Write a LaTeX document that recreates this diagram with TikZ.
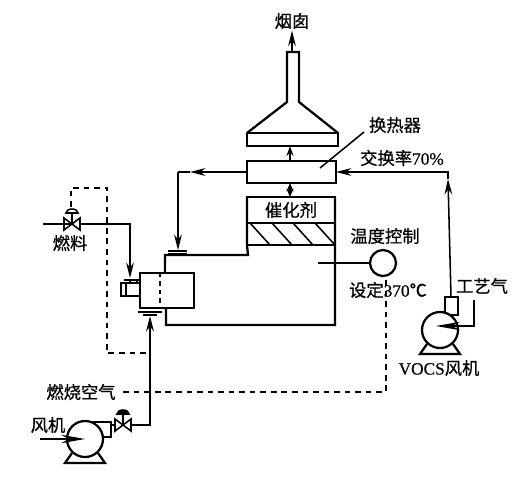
\documentclass[tikz,border=0pt]{standalone}
\usepackage{fontspec}
\setmainfont{Liberation Serif}[FakeBold=0.4]
\newfontfamily\cjk{Noto Sans CJK SC}[FakeBold=0.6]
\usetikzlibrary{arrows.meta}

\tikzset{
    wall/.style={draw, line width=1.6pt, inner sep=0pt, outer sep=0pt},
    pipe/.style={line width=1.1pt},
    flow/.style={pipe, -{Stealth[length=11pt, width=5.5pt]}},
    signal/.style={line width=1.1pt, dash pattern=on 4pt off 3.5pt},
    label/.style={inner sep=1pt, font=\cjk\fontsize{12.3}{14}\selectfont},
}

\begin{document}
\begin{tikzpicture}[x=0.025cm, y=-0.025cm]
    \useasboundingbox (0, 0) rectangle (532, 481);

    % stack and exchanger
    \node[wall, minimum width=2.27cm, minimum height=0.33cm] (hoodbase) at (292.5, 139.5) {};
    \node[wall, minimum width=2.22cm, minimum height=0.55cm] (exchanger) at (291.5, 172) {};
    \draw[wall] (hoodbase.north west) -- (287, 102) -- (287, 52) -- (299, 52) -- (299, 102) -- (hoodbase.north east);
    \coordinate (stacktop) at (292, 52);
    \node[label] (stacklabel) at (292, 21) {烟囱};
    \draw[flow] (stacktop) -- (stacklabel.south);
    \draw[flow, -{Stealth[length=7pt, width=5pt]}] (exchanger.north -| 290, 0) -- (hoodbase.south -| 290, 0);

    % catalyst bed and chamber
    \node[wall, label, minimum width=2.2cm, minimum height=0.65cm] (catalyst) at (291, 210) {催化剂};
    \node[wall, minimum width=2.2cm, minimum height=0.55cm] (bed) at (291, 234) {};
    \draw[flow, {Stealth[length=6pt, width=5pt]}-{Stealth[length=6pt, width=5pt]}] (catalyst.north -| 290, 0) -- (exchanger.south -| 290, 0);
    \foreach \x in {250, 272, 293, 315} {
        \draw[pipe] (\x, 223) -- ++(20, 22);
    }

    % burner
    \node[wall, minimum width=1.35cm, minimum height=0.875cm] (burner) at (167, 290.5) {};
    \coordinate (chamberin) at (165, 255);
    \coordinate (chamberout) at (166, 325);
    \draw[wall] (catalyst.north west) -- (bed.south west) -- (248, 255) -- (chamberin) -- (165, 273);
    \draw[wall] (catalyst.north east) -- (335, 325) -- (chamberout) -- (166, 308);
    \draw[pipe, dashed] (160, 273) -- (160, 308);

    % flanges
    \draw[wall] (168, 251) -- (187, 251);
    \draw[pipe] (168, 254) -- (187, 254);
    \draw[wall] (138, 312) -- (162, 312);
    \draw[pipe] (143, 315) -- (157, 315);
    \draw[wall] (124, 280) -- (140, 280);

    % burner head
    \node[wall, minimum width=0.475cm, minimum height=0.33cm] (head) at (130.5, 289.5) {};
    \draw[pipe] (126, 283) -- (126, 296);
    \draw[pipe] (130, 280) -- (130, 283);
    \draw[pipe] (137, 280) -- (137, 283);

    % valves
    \coordinate (fuelvalve) at (72, 224);
    \coordinate (airvalve) at (123, 425);
    \foreach \v/\c in {fuelvalve/white, airvalve/black} {
        \draw[pipe] ([shift={(-8, -6)}]\v) -- ([shift={(8, 6)}]\v) -- ([shift={(8, -6)}]\v) -- ([shift={(-8, 6)}]\v) -- cycle;
        \draw[pipe] (\v) -- ([shift={(0, -11)}]\v);
        \draw[pipe, fill=\c] ([shift={(-6, -11)}]\v) arc[start angle=180, end angle=360, x radius=6, y radius=4] -- cycle;
    }

    % fans
    \draw[wall] (90, 422) -- (111, 422) -- (111, 437) -- (98, 437);
    \node[wall, minimum width=0.33cm, minimum height=0.45cm] (vocsoutlet) at (451.5, 306) {};
    \node[wall, circle, fill=white, minimum size=0.9cm] (airfan) at (85, 439) {};
    \node[wall, circle, fill=white, minimum size=0.9cm] (vocsfan) at (440, 330) {};
    \foreach \fan in {airfan, vocsfan} {
        \draw[wall] ([shift={(-13, 14)}]\fan.center) -- ([shift={(-20, 24)}]\fan.center) -- ([shift={(20, 24)}]\fan.center) -- ([shift={(13, 14)}]\fan.center);
    }

    % fuel line and labels
    \coordinate (fuelin) at (43, 224);
    \coordinate (burnerfuel) at (130, 278);
    \draw[pipe] (fuelin) -- (fuelvalve);
    \draw[flow] (fuelvalve) ++(8, 0) -| (burnerfuel);
    \node[label] (fuellabel) at (70, 243) {燃料};

    % air line
    \coordinate (airtee) at (150, 425);
    \coordinate (burnerair) at (150, 316);
    \coordinate (airin) at (40, 439);
    \draw[flow] (airvalve) ++(8, 0) -- (airtee) -- (burnerair);
    \draw[flow, -{Stealth[length=17pt, width=6pt]}] (airin) -- (airfan.center);
    \draw[pipe] (111, 425) -- ([shift={(-8, 0)}]airvalve);
    \node[label] (fanlabel) at (48, 425) {风机};
    \node[label] (airlabel) at (81, 392) {燃烧空气};

    % recycle from exchanger
    \coordinate (recycle) at (178, 172);
    \coordinate (recycleend) at (178, 250);
    \draw[flow] (exchanger.west) -- (190, 172);
    \draw[pipe] (190, 172) -- (recycle);
    \draw[flow] (recycle) -- (recycleend);

    % temperature control
    \node[wall, circle, minimum size=0.65cm] (tempctl) at (383, 263) {};
    \coordinate (chambertap) at (318, 263);
    \draw[pipe] (chambertap) -- (tempctl.west);
    \node[label] (templabel) at (385, 236) {温度控制};
    \draw[signal] (airlabel.east) ++(6, 0) -- (386, 392) -- (386, 277);
    \node[label] (setlabel) at (388, 290) {设定{\rmfamily 370}℃};

    % fuel valve control line
    \coordinate (dashtop) at (71, 188);
    \coordinate (dashcorner) at (107, 188);
    \coordinate (dashlow) at (107, 353);
    \coordinate (dashend) at (147, 353);
    \draw[signal] (71, 207) -- (dashtop) -- (dashcorner) -- (dashlow) -- (dashend);

    % vocs line
    \coordinate (vocstop) at (448, 172);
    \draw[flow] (vocsoutlet.north -| 451, 0) -- (448, 179);
    \draw[flow] (448, 179) -- (vocstop) -- (exchanger.east);
    \node[label] (ratelabel) at (402, 158) {交换率{\rmfamily 70\%}};
    \node[label] (exlabel) at (395, 125) {换热器};
    \coordinate (extip) at (320, 168);
    \draw[pipe] (364, 132) -- (extip);

    % process gas
    \coordinate (gasin) at (474, 300);
    \coordinate (gascorner) at (474, 326);
    \coordinate (gasend) at (436, 326);
    \draw[flow, -{Stealth[length=17pt, width=6pt]}] (gasin) -- (gascorner) -- (gasend);
    \node[label] (gaslabel) at (482, 286) {工艺气};
    \node[label] (vocslabel) at (439, 368) {{\rmfamily VOCS}风机};
\end{tikzpicture}
\end{document}
